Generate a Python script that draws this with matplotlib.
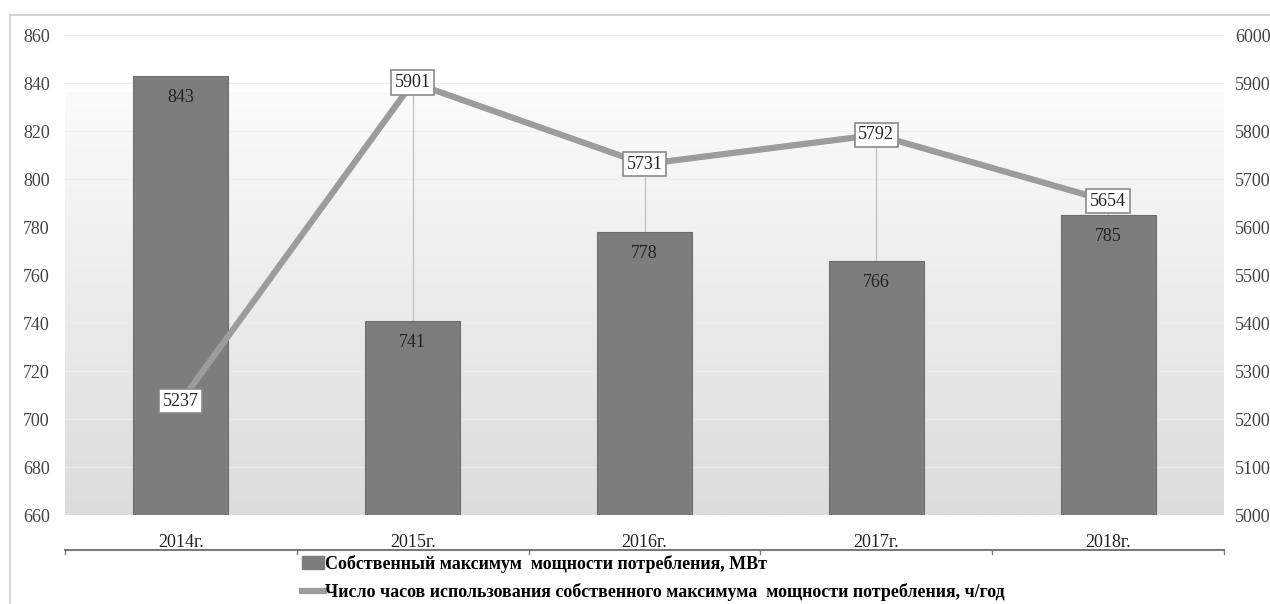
import numpy as np
import matplotlib
matplotlib.use("Agg")
import matplotlib.pyplot as plt
from matplotlib.lines import Line2D

plt.rcParams["font.family"] = ["Liberation Serif", "DejaVu Serif"]

years = ["2014г.", "2015г.", "2016г.", "2017г.", "2018г."]
power_mw = [843, 741, 778, 766, 785]
hours = [5237, 5901, 5731, 5792, 5654]
bar_label = "Собственный максимум  мощности потребления, МВт"
line_label = "Число часов использования собственного максимума  мощности потребления, ч/год"

BAR, LINE, TXT = "#7d7d7d", "#9c9c9c", "#222222"

W, H = 1270, 604
fig = plt.figure(figsize=(W / 100, H / 100), dpi=100)
ax = fig.add_axes([65 / W, 1 - 515 / H, (1224 - 65) / W, 480 / H])
ax2 = ax.twinx()

x = np.arange(len(years))
ax.set_xlim(-0.5, len(years) - 0.5)
ax.set_ylim(660, 860)
ax2.set_ylim(5000, 6000)

# gradient plot background
grad = np.linspace(0, 1, 256).reshape(-1, 1)
ax.imshow(grad, extent=[-0.5, len(years) - 0.5, 660, 836], aspect="auto",
          cmap=matplotlib.colors.LinearSegmentedColormap.from_list("g", ["#dcdcdc", "#fbfbfb"]),
          origin="lower", zorder=0)
for yv in range(660, 861, 20):
    ax.axhline(yv, color="#eeeeee", lw=0.6, zorder=0.5)

# drop lines from the line points, kept behind the bars
ax.vlines(x, 5000, hours, color="#c4c4c4", lw=1, zorder=1, transform=ax2.transData)

bars = ax.bar(x, power_mw, width=0.41, color=BAR, edgecolor="#6e6e6e", lw=0.8, zorder=2)
for xi, v in zip(x, power_mw):
    ax.text(xi, v - 9, str(v), ha="center", va="center", fontsize=13, color=TXT, zorder=6)

ax.set_zorder(1)
ax2.set_zorder(2)
ax.patch.set_visible(False)
ax2.patch.set_visible(False)
ax2.plot(x, hours, color=LINE, lw=4.5, solid_capstyle="round", zorder=3)
for xi, v in zip(x, hours):
    ax2.text(xi, v, str(v), ha="center", va="center", fontsize=13, color=TXT, zorder=7,
             bbox=dict(boxstyle="square,pad=0.2", fc="white", ec="#8a8a8a", lw=1.2))

ax.set_xticks(x, years)
ax.set_yticks(range(660, 861, 20))
ax2.set_yticks(range(5000, 6001, 100))
ax.tick_params(axis="x", length=0, pad=14, labelsize=13, colors=TXT)
ax.tick_params(axis="y", length=0, pad=11, labelsize=13, colors="#444444")
ax2.tick_params(axis="y", length=0, pad=8, labelsize=13, colors="#444444")
for a in (ax, ax2):
    for s in a.spines.values():
        s.set_visible(False)

# category axis line drawn below the labels, excel style
yl = 1 - 550 / H
fig.add_artist(Line2D([65 / W, 1224 / W], [yl, yl], color="#7a7a7a", lw=1.5))
for i in range(len(years) + 1):
    xp = (65 + i * (1224 - 65) / len(years)) / W
    fig.add_artist(Line2D([xp, xp], [yl, yl - 4 / H], color="#7a7a7a", lw=1))

# outer frame
fig.add_artist(Line2D([10 / W, 1.0], [1 - 15 / H, 1 - 15 / H], color="#d4d4d4", lw=1.5))
fig.add_artist(Line2D([10 / W, 10 / W], [1 - 15 / H, 0], color="#d4d4d4", lw=1.5))

# legend
handles = [matplotlib.patches.Patch(color=BAR, label=bar_label),
           Line2D([], [], color=LINE, lw=4.5, label=line_label)]
fig.legend(handles=handles, loc="upper left", bbox_to_anchor=(302 / W, 1 - 555 / H),
           frameon=False, ncol=1, handlelength=1.2, handletextpad=0.1, labelspacing=0.55,
           borderaxespad=0, borderpad=0,
           prop={"family": "Liberation Serif", "weight": "bold", "size": 13})

fig.savefig("out.png", dpi=100)
